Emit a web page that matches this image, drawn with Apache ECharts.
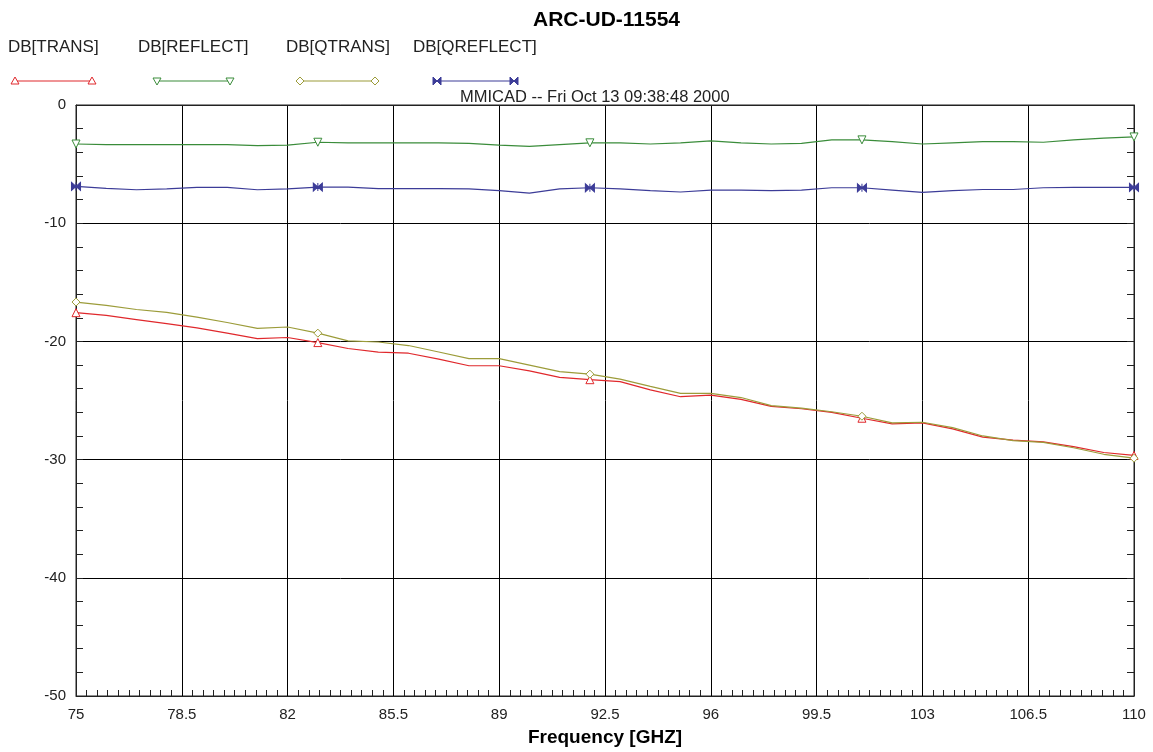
<!DOCTYPE html>
<html>
<head>
<meta charset="utf-8">
<script src="https://cdn.jsdelivr.net/npm/echarts@6/dist/echarts.min.js"></script>
<style>
html,body{margin:0;padding:0;background:#fff;}
#chart{width:1153px;height:752px;}
</style>
</head>
<body>
<div id="chart"></div>
<script>
// ---- data ----
const chartTitle = 'ARC-UD-11554';
const stampText = 'MMICAD -- Fri Oct 13 09:38:48 2000';
const xAxisName = 'Frequency [GHZ]';
const seriesNames = ['DB[TRANS]', 'DB[REFLECT]', 'DB[QTRANS]', 'DB[QREFLECT]'];
const xTickLabels = [75, 78.5, 82, 85.5, 89, 92.5, 96, 99.5, 103, 106.5, 110];
const yTickLabels = [-50, -40, -30, -20, -10, 0];
const markerFreqs = [75, 83, 92, 101, 110];

const freq = [75, 76, 77, 78, 79, 80, 81, 82, 83, 84, 85, 86, 87, 88, 89, 90, 91, 92,
              93, 94, 95, 96, 97, 98, 99, 100, 101, 102, 103, 104, 105, 106, 107, 108, 109, 110];

const dbTrans = [-17.57, -17.8, -18.15, -18.5, -18.85, -19.3, -19.76, -19.67, -20.1, -20.6, -20.9, -21.0,
                 -21.5, -22.06, -22.06, -22.5, -23.05, -23.24, -23.4, -24.1, -24.68, -24.54, -24.9, -25.49,
                 -25.7, -26.0, -26.5, -26.98, -26.9, -27.4, -28.1, -28.35, -28.5, -28.9, -29.4, -29.65];

const dbReflect = [-3.3, -3.35, -3.35, -3.35, -3.35, -3.35, -3.43, -3.4, -3.15, -3.2, -3.2, -3.2,
                   -3.2, -3.25, -3.4, -3.5, -3.35, -3.2, -3.2, -3.3, -3.2, -3.04, -3.2, -3.3,
                   -3.25, -2.95, -2.95, -3.1, -3.3, -3.2, -3.1, -3.1, -3.15, -2.95, -2.8, -2.7];

const dbQTrans = [-16.67, -16.95, -17.3, -17.55, -17.95, -18.4, -18.9, -18.78, -19.3, -19.95, -20.05, -20.35,
                  -20.9, -21.45, -21.45, -22.0, -22.55, -22.77, -23.19, -23.8, -24.4, -24.4, -24.75, -25.44,
                  -25.65, -25.95, -26.33, -26.9, -26.84, -27.3, -28.0, -28.4, -28.55, -29.0, -29.55, -29.88];

const dbQReflect = [-6.89, -7.05, -7.17, -7.1, -6.97, -6.97, -7.17, -7.1, -6.94, -6.95, -7.08, -7.08,
                    -7.08, -7.1, -7.25, -7.45, -7.1, -7.0, -7.1, -7.25, -7.36, -7.2, -7.2, -7.25,
                    -7.2, -7.0, -7.0, -7.2, -7.4, -7.25, -7.15, -7.15, -7.0, -6.97, -6.97, -6.97];

// ---- styling ----
const colors = ['#e0282c', '#3a8c3a', '#9c9c3a', '#3c3c98'];
const bowtie = 'path://M0,0L5,5L0,10ZM10,0L5,5L10,10ZM5,0L5,10';
const symbols = ['triangle', 'triangle', 'diamond', bowtie];
const rotations = [0, 180, 0, 0];
const allValues = [dbTrans, dbReflect, dbQTrans, dbQReflect];
const FONT = '"Liberation Sans", Arial, sans-serif';

// minor tick positions on the frequency axis (10 per major division)
const minorX = [];
for (let i = 0; i < xTickLabels.length - 1; i++) {
  const a = xTickLabels[i], b = xTickLabels[i + 1];
  for (let k = 1; k < 10; k++) minorX.push(+(a + (b - a) * k / 10).toFixed(3));
}

const chart = echarts.init(document.getElementById('chart'), null, {renderer: 'canvas'});

const series = allValues.map((vals, si) => ({
  name: seriesNames[si],
  type: 'line',
  xAxisIndex: 0,
  yAxisIndex: 0,
  data: freq.map((f, i) => [f, vals[i]]),
  showAllSymbol: true,
  symbol: symbols[si],
  symbolRotate: rotations[si],
  symbolSize: (v) => markerFreqs.indexOf(v[0]) >= 0 ? (si === 3 ? [9, 8] : 8) : 0,
  lineStyle: {color: colors[si], width: 1.2},
  itemStyle: {color: si === 3 ? colors[si] : '#fff', borderColor: colors[si], borderWidth: 1},
  emphasis: {disabled: true},
  z: 3 + si
}));

// legend drawn as graphic: label above, sample line with end markers below
const legendTextX = [8, 138, 286, 413];
const legendLineX = [[15, 92], [157, 230], [300, 375], [437, 514]];
const graphics = [];
seriesNames.forEach((n, i) => {
  graphics.push({
    type: 'text', left: legendTextX[i], top: 39,
    style: {text: n, font: '17px ' + FONT, fill: '#222'}
  });
  const [x1, x2] = legendLineX[i];
  graphics.push({
    type: 'line', shape: {x1: x1, y1: 81, x2: x2, y2: 81},
    style: {stroke: colors[i], lineWidth: 1.2}
  });
  [x1, x2].forEach(x => {
    let pts;
    if (i === 0) pts = [[x - 4, 84], [x + 4, 84], [x, 77]];
    else if (i === 1) pts = [[x - 4, 78], [x + 4, 78], [x, 85]];
    else if (i === 2) pts = [[x - 4, 81], [x, 77], [x + 4, 81], [x, 85]];
    if (pts) {
      graphics.push({type: 'polygon', shape: {points: pts},
        style: {fill: '#fff', stroke: colors[i], lineWidth: 1}});
    } else {
      graphics.push({type: 'polygon', shape: {points: [[x - 4, 77], [x, 81], [x - 4, 85]]},
        style: {fill: colors[i], stroke: colors[i], lineWidth: 1}});
      graphics.push({type: 'polygon', shape: {points: [[x + 4, 77], [x, 81], [x + 4, 85]]},
        style: {fill: colors[i], stroke: colors[i], lineWidth: 1}});
    }
  });
});
graphics.push({
  type: 'text', left: 460, top: 89,
  style: {text: stampText, font: '16.5px ' + FONT, fill: '#222'}
});

const labelFont = {fontFamily: FONT, fontSize: 15, color: '#222'};

chart.setOption({
  animation: false,
  backgroundColor: '#fff',
  title: {
    text: chartTitle, left: 528, top: 5,
    textStyle: {fontFamily: FONT, fontSize: 21, fontWeight: 'bold', color: '#000'}
  },
  grid: {left: 76, right: 19, top: 105, bottom: 54, show: true, borderColor: '#222', borderWidth: 1, containLabel: false},
  xAxis: [{
    // bottom axis: labels at major values, small inward ticks at minor values
    type: 'value', min: 75, max: 110, position: 'bottom',
    name: xAxisName, nameLocation: 'middle', nameGap: 32,
    nameTextStyle: {fontFamily: FONT, fontSize: 19, fontWeight: 'bold', color: '#000'},
    axisLine: {show: true, onZero: false, lineStyle: {color: '#222', width: 1}},
    axisTick: {show: true, inside: true, length: 6, customValues: minorX, lineStyle: {color: '#222'}},
    axisLabel: Object.assign({customValues: xTickLabels, margin: 11}, labelFont),
    splitLine: {show: false}
  }, {
    // top axis: carries the vertical grid lines at the major values
    type: 'value', min: 75, max: 110, position: 'top',
    axisLine: {show: true, onZero: false, lineStyle: {color: '#222', width: 1}},
    axisTick: {show: false, customValues: xTickLabels},
    axisLabel: {show: false},
    splitLine: {show: true, lineStyle: {color: '#000', width: 1}}
  }],
  yAxis: [{
    type: 'value', min: -50, max: 0, interval: 10,
    axisLine: {show: true, onZero: false, lineStyle: {color: '#222', width: 1}},
    axisTick: {show: true, inside: true, length: 7, lineStyle: {color: '#222'}},
    minorTick: {show: true, splitNumber: 5, length: 7, lineStyle: {color: '#222'}},
    axisLabel: Object.assign({margin: 10}, labelFont),
    splitLine: {show: true, lineStyle: {color: '#000', width: 1}}
  }, {
    type: 'value', min: -50, max: 0, interval: 10, position: 'right',
    axisLine: {show: true, onZero: false, lineStyle: {color: '#222', width: 1}},
    axisTick: {show: true, inside: true, length: 7, lineStyle: {color: '#222'}},
    minorTick: {show: true, splitNumber: 5, length: 7, lineStyle: {color: '#222'}},
    axisLabel: {show: false},
    splitLine: {show: false}
  }],
  graphic: graphics,
  series: series
});
</script>
</body>
</html>
